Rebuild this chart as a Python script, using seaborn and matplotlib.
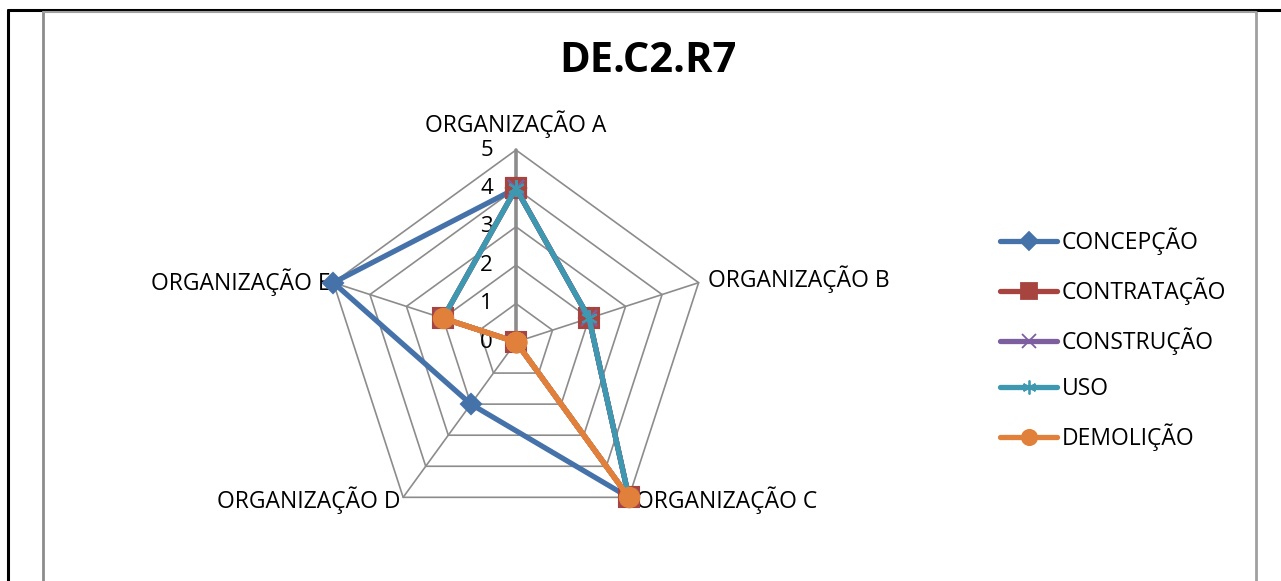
import numpy as np
import pandas as pd
import matplotlib
matplotlib.use('Agg')
import matplotlib.pyplot as plt
from matplotlib.lines import Line2D
import seaborn as sns

# dados do grafico
categorias = ['ORGANIZAÇÃO A', 'ORGANIZAÇÃO B', 'ORGANIZAÇÃO C', 'ORGANIZAÇÃO D', 'ORGANIZAÇÃO E']
series = ['CONCEPÇÃO', 'CONTRATAÇÃO', 'CONSTRUÇÃO', 'USO', 'DEMOLIÇÃO']
concepcao = [4, 2, 5, 2, 5]
contratacao = [4, 2, 5, 0, 2]
construcao = [4, 2, 5, 0, 2]
uso = [4, 2, 5, 0, 2]
demolicao = [0, 0, 5, 0, 2]
niveis = [0, 1, 2, 3, 4, 5]

cores = ['#4672AA', '#A8443F', '#7D5FA0', '#3D98B0', '#E0803A']
marcadores = ['D', 's', 'x', (6, 2, 0), 'o']
tam_marc = [10, 14, 12, 12, 14]
tam_leg = [9, 11, 10, 10, 11]

sns.set_style('white')
plt.rcParams['font.family'] = ['Open Sans', 'DejaVu Sans']
plt.rcParams['text.color'] = 'black'

fig = plt.figure(figsize=(12.81, 5.81), dpi=100)
W, H = 1281, 581
cx, cy, rr = 516, 342, 192
ax = fig.add_axes([(cx - rr) / W, (H - cy - rr) / H, 2 * rr / W, 2 * rr / H], projection='polar')
ax.set_theta_offset(np.pi / 2)
ax.set_theta_direction(-1)
ax.set_ylim(0, 5)
ax.grid(False)
ax.set_xticks([])
ax.set_yticks([])
ax.spines['polar'].set_visible(False)
ax.patch.set_alpha(0)

n = len(categorias)
angulos = np.arange(n) * 2 * np.pi / n
ang_fech = np.append(angulos, 2 * np.pi)

# grade pentagonal
for lv in niveis[1:]:
    ax.plot(ang_fech, [lv] * (n + 1), color='#8c8c8c', lw=1.2, zorder=1, clip_on=False)
for i, a in enumerate(angulos):
    ax.plot([a, a], [0, niveis[-1]], color='#8c8c8c', lw=2.6 if i == 0 else 1.2, zorder=1, clip_on=False)

# rotulos do eixo de valores
for lv in niveis:
    ax.annotate(str(lv), (0, lv), xytext=(-23, 0), textcoords='offset pixels',
                ha='right', va='center', fontsize=16, color='black')

# rotulos das categorias
offs = [(0, 26, 'center'), (9, 3, 'left'), (7, -3, 'left'), (-3, -3, 'right'), (-3, 0, 'right')]
for a, cat, (dx, dy, ha) in zip(angulos, categorias, offs):
    ax.annotate(cat, (a, niveis[-1]), xytext=(dx, dy), textcoords='offset pixels',
                ha=ha, va='center', fontsize=16.5, color='black')

valores = [concepcao, contratacao, construcao, uso, demolicao]
handles = []
for nome, vals, c, m, ms, ml in zip(series, valores, cores, marcadores, tam_marc, tam_leg):
    df = pd.DataFrame({'theta': ang_fech, 'valor': vals + [vals[0]]})
    sns.lineplot(data=df, x='theta', y='valor', sort=False, estimator=None, ax=ax,
                 color=c, linewidth=3.8, marker=m, markersize=ms,
                 markeredgecolor=c, markeredgewidth=1.5, zorder=3, clip_on=False)
    handles.append(Line2D([], [], color=c, lw=3.8, marker=m, markersize=ml,
                          markeredgecolor=c, markeredgewidth=1.3, label=nome))
ax.set_xlabel('')
ax.set_ylabel('')

fig.legend(handles=handles, loc='center left', bbox_to_anchor=(1000 / W, (H - 339.5) / H),
           frameon=False, fontsize=16.5, handlelength=2.5, handletextpad=0.2,
           labelspacing=0.97, borderpad=0, borderaxespad=0)

fig.text(648 / W, 1 - 62 / H, 'DE.C2.R7', ha='center', va='center', fontsize=30,
         fontweight='bold', color='black')

# moldura da pagina
def linha(x0, y0, x1, y1, cor, lw):
    fig.add_artist(Line2D([x0 / W, x1 / W], [1 - y0 / H, 1 - y1 / H], color=cor, lw=lw,
                          transform=fig.transFigure))

linha(8, 10, W, 10, 'black', 2.2)
linha(8, 10, 8, H, 'black', 2.2)
linha(42.5, 12, 42.5, H, '#8c8c8c', 2)
linha(42.5, 12, 1256, 12, '#a0a0a0', 1.5)
linha(1256, 12, 1256, H, '#a0a0a0', 2)

fig.savefig('out.png', dpi=100)
